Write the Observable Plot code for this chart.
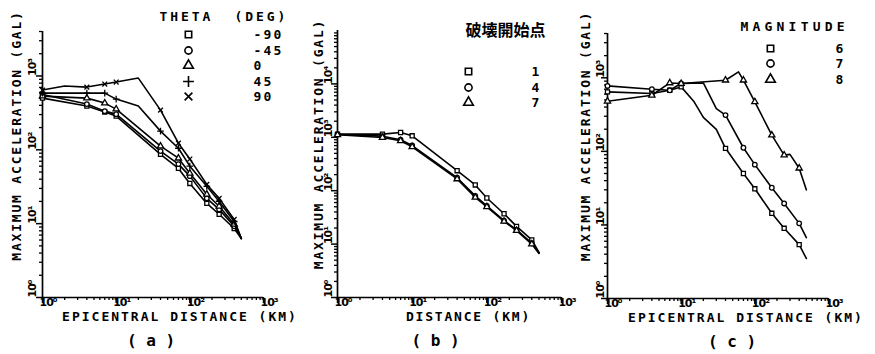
<!DOCTYPE html>
<html><head><meta charset="utf-8">
<script src="https://cdn.jsdelivr.net/npm/d3@7"></script>
<script src="https://cdn.jsdelivr.net/npm/@observablehq/plot@0.6"></script>
<style>
body{margin:0;background:#fff;}
#wrap{position:relative;width:875px;height:354px;overflow:hidden;background:#fff;}
#wrap svg{position:absolute;top:0;overflow:visible;background:transparent;}
</style></head><body><div id="wrap"></div>
<script>
// ---------- data ----------
// Panel (a): THETA (DEG)
const distA = [1, 2, 4, 7, 10, 20, 40, 70, 100, 170, 250, 400, 500];
const thetaLabels = ["-90", "-45", "0", "45", "90"];
const accA_m90 = [501, null, 391, 324, 286, null, 87, 56, 35, 18.8, 13.4, 8.6, 6.3];
const accA_m45 = [560, null, 416, 334, 304, null, 96, 64, 44, 22, 15.6, 9.2, 6.3];
const accA_0   = [534, null, 501, 429, 356, null, 112, 77, 48, 25, 17.2, 9.8, 6.3];
const accA_45  = [586, null, 586, 586, 486, 391, 179, 105, 60, 32, 20, 10.7, 6.3];
const accA_90  = [644, 730, 707, 777, 827, 936, 345, 123, 75, 34, 22, 11.4, 6.3];

// Panel (b): 破壊開始点
const distB = [1, 4, 7, 10, 40, 70, 100, 170, 250, 400, 500];
const ruptureLabels = ["1", "4", "7"];
const accB_1 = [1148, 1148, 1230, 1067, 237, 128, 73, 37, 21.5, 12, 7.0];
const accB_4 = [1130, 1050, 900, 700, 175, 80, 52, 27.5, 18.5, 10.4, 6.8];
const accB_7 = [1114, 991, 860, 664, 166, 75, 50, 26.7, 17.9, 10, 6.7];

// Panel (c): MAGNITUDE
const distC = [1, 4, 7, 10, 15, 20, 30, 40, 60, 70, 100, 170, 250, 300, 400, 500];
const magLabels = ["6", "7", "8"];
const accC_6 = [644, 611, 676, 752, 471, 290, 199, 110, null, 50, 31, 14.4, 9.0, null, 5.4, 3.5];
const accC_7 = [776, 700, 676, 835, null, 851, 382, 311, null, 112, 66, 32, 19.6, null, 10.5, 6.7];
const accC_8 = [480, 579, 851, 835, null, null, null, 927, 1202, 927, 471, 166, 89, 91, 59, 30];

const markerDist = [1, 4, 7, 10, 40, 70, 100, 170, 250, 400];

// ticks
const xMajor = [1, 10, 100, 1000];
const xMajorLabels = ["10⁰", "10¹", "10²", "10³"];
const yMajorA = [1, 10, 100, 1000];
const yMajorLabelsA = ["10⁰", "10¹", "10²", "10³"];
const yMajorB = [1, 10, 100, 1000, 10000];
const yMajorLabelsB = ["10⁰", "10¹", "10²", "10³", "10⁴"];

const FONT = "DejaVu Sans Mono";
const T = {fontFamily: FONT, fontWeight: "bold", fill: "black", lineAnchor: "middle"};

// letter spacing per text (applied after rendering)
const spacing = new Map([
  ["EPICENTRAL DISTANCE (KM)", "2px"],
  ["DISTANCE (KM)", "1.8px"],
  ["MAXIMUM ACCELERATION (GAL)", "1.8px"],
  ["THETA  (DEG)", "2.9px"],
  ["MAGNITUDE", "4.2px"],
  ["-90", "2.2px"], ["-45", "2.2px"], ["45", "2.2px"], ["90", "2.2px"]
]);

function minors(max) {
  const out = [];
  for (let p = 1; p < max; p *= 10) for (let k = 2; k <= 9; k++) if (k * p <= max) out.push(k * p);
  return out;
}

function panel(c) {
  const H = 354;
  const fw = c.width - c.ml - c.mr, fh = H - c.mt - c.mb;
  const marks = [];
  // axes lines
  marks.push(Plot.ruleY([1], {stroke: "black", strokeWidth: 1.7}));
  marks.push(Plot.ruleX([1], {stroke: "black", strokeWidth: 1.7}));
  // x ticks
  marks.push(Plot.ruleX(minors(1000), {x: d => d, insetTop: fh, insetBottom: -3, stroke: "black", strokeWidth: 1.3}));
  marks.push(Plot.ruleX(xMajor, {x: d => d, insetTop: fh, insetBottom: -6, stroke: "black", strokeWidth: 1.5}));
  // y ticks
  marks.push(Plot.ruleY(minors(c.ymax), {y: d => d, insetRight: fw, insetLeft: -3, stroke: "black", strokeWidth: 1.3}));
  marks.push(Plot.ruleY(c.yMajor, {y: d => d, insetRight: fw, insetLeft: -6, stroke: "black", strokeWidth: 1.5}));
  // tick labels
  marks.push(Plot.text(xMajor, {...T, x: d => d, text: (d, i) => xMajorLabels[i], frameAnchor: "bottom",
    textAnchor: "start", dx: -3, dy: 5, fontSize: 11, fontFamily: "DejaVu Sans"}));
  marks.push(Plot.text(c.yMajor, {...T, y: d => d, text: (d, i) => c.yLabels[i], frameAnchor: "left",
    rotate: -90, textAnchor: "start", dx: c.ytdx, dy: 0, fontSize: 11, fontFamily: "DejaVu Sans"}));
  // axis titles
  marks.push(Plot.text([c.xTitle], {...T, text: d => d, frameAnchor: "bottom", textAnchor: "middle",
    dx: c.xtdx, dy: 19.5, fontSize: 13}));
  marks.push(Plot.text(["MAXIMUM ACCELERATION (GAL)"], {...T, text: d => d, frameAnchor: "left", rotate: -90,
    textAnchor: "middle", dx: c.yadx, dy: c.yady, fontSize: 13}));
  // caption
  marks.push(Plot.text([c.caption], {...T, text: d => d, frameAnchor: "bottom", textAnchor: "middle",
    dx: c.capdx, dy: 43, fontSize: 16}));
  // data
  c.series.forEach(s => {
    const pts = c.dist.map((d, i) => ({d, a: s.values[i]})).filter(p => p.a != null);
    marks.push(Plot.line(pts, {x: "d", y: "a", stroke: "black", strokeWidth: 1.6}));
    marks.push(Plot.dot(pts.filter(p => markerDist.includes(p.d)), {x: "d", y: "a", symbol: s.symbol,
      r: 2.3, stroke: "black", fill: "white", strokeWidth: 1.3}));
  });
  // legend
  const L = c.legend;
  marks.push(Plot.text([L.title], {...T, text: d => d, frameAnchor: "top-left", textAnchor: L.titleAnchor,
    dx: L.tdx, dy: L.tdy, fontSize: L.titleSize, fontFamily: L.titleFont || FONT}));
  c.series.forEach((s, i) => {
    marks.push(Plot.dot([0], {frameAnchor: "top-left", dx: L.sdx, dy: L.rows[i], symbol: s.symbol, r: 3.6,
      stroke: "black", fill: "white", strokeWidth: 1.6}));
    marks.push(Plot.text([L.labels[i]], {...T, text: d => d, frameAnchor: "top-left", textAnchor: "start",
      dx: L.ndx, dy: L.rows[i], fontSize: 13}));
  });
  const svg = Plot.plot({
    width: c.width, height: H,
    marginLeft: c.ml, marginRight: c.mr, marginTop: c.mt, marginBottom: c.mb,
    x: {type: "log", domain: [1, 1000], axis: null},
    y: {type: "log", domain: [1, c.ymax], axis: null},
    style: {overflow: "visible", background: "transparent"},
    marks
  });
  svg.style.left = c.left + "px";
  svg.querySelectorAll("text").forEach(t => {
    const s = t.textContent;
    if (spacing.has(s)) t.style.letterSpacing = spacing.get(s);
    else if (/^10[⁰¹²³⁴]$/.test(s)) t.style.letterSpacing = "-1px";
  });
  return svg;
}

const wrap = document.getElementById("wrap");
wrap.appendChild(panel({
  left: 0, width: 290, ml: 42, mr: 27, mt: 31, mb: 57, ymax: 4000,
  yMajor: yMajorA, yLabels: yMajorLabelsA, ytdx: -10,
  xTitle: "EPICENTRAL DISTANCE (KM)", xtdx: 27, yadx: -26, yady: -29, caption: "( a )", capdx: -2,
  dist: distA,
  series: [
    {values: accA_m90, symbol: "square"},
    {values: accA_m45, symbol: "circle"},
    {values: accA_0, symbol: "triangle"},
    {values: accA_45, symbol: "plus"},
    {values: accA_90, symbol: "times"}
  ],
  legend: {title: "THETA  (DEG)", titleAnchor: "start", tdx: 117, tdy: -15, titleSize: 13,
    sdx: 146, ndx: 211, rows: [3, 19, 34, 50, 65], labels: thetaLabels}
}));
wrap.appendChild(panel({
  left: 290, width: 280, ml: 47, mr: 9, mt: 30, mb: 57, ymax: 100000,
  yMajor: yMajorB, yLabels: yMajorLabelsB, ytdx: -9,
  xTitle: "DISTANCE (KM)", xtdx: 19, yadx: -19, yady: -20, caption: "( b )", capdx: -14,
  dist: distB,
  series: [
    {values: accB_1, symbol: "square"},
    {values: accB_4, symbol: "circle"},
    {values: accB_7, symbol: "triangle"}
  ],
  legend: {title: "破壊開始点", titleAnchor: "middle", tdx: 168, tdy: 0, titleSize: 16, titleFont: "Noto Sans CJK JP",
    sdx: 131, ndx: 194, rows: [41, 57, 72], labels: ruptureLabels}
}));
wrap.appendChild(panel({
  left: 570, width: 305, ml: 37, mr: 47, mt: 33, mb: 56, ymax: 4000,
  yMajor: yMajorA, yLabels: yMajorLabelsA, ytdx: -7,
  xTitle: "EPICENTRAL DISTANCE (KM)", xtdx: 28, yadx: -22, yady: -30, caption: "( c )", capdx: 14,
  dist: distC,
  series: [
    {values: accC_6, symbol: "square"},
    {values: accC_7, symbol: "circle"},
    {values: accC_8, symbol: "triangle"}
  ],
  legend: {title: "MAGNITUDE", titleAnchor: "start", tdx: 133, tdy: -7, titleSize: 13,
    sdx: 163, ndx: 228, rows: [15, 30, 46], labels: magLabels}
}));
</script></body></html>
